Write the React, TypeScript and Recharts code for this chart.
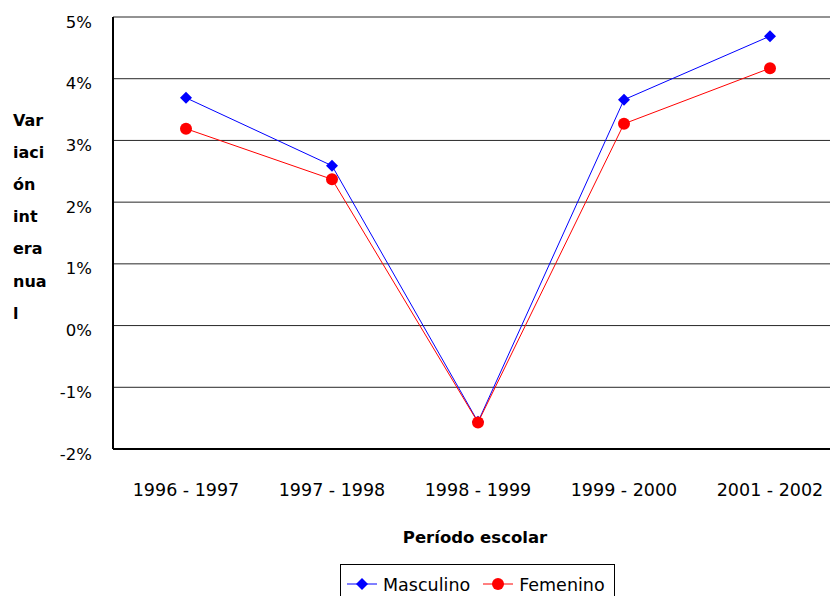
import React from 'react';
import { LineChart, Line, XAxis, YAxis, CartesianGrid } from 'recharts';

const categories = ['1996 - 1997', '1997 - 1998', '1998 - 1999', '1999 - 2000', '2001 - 2002'];
const masculino = [3.69, 2.59, -1.56, 3.66, 4.69];
const femenino = [3.19, 2.37, -1.57, 3.27, 4.17];
const yTicks = [-2, -1, 0, 1, 2, 3, 4, 5];
const yTitleLines = ['Var', 'iaci', 'ón', 'int', 'era', 'nua', 'l'];
const xTitle = 'Período escolar';
const seriesNames = ['Masculino', 'Femenino'];

const data = categories.map((c, i) => ({
  periodo: c,
  [seriesNames[0]]: masculino[i],
  [seriesNames[1]]: femenino[i],
}));

const FONT = '"DejaVu Sans", sans-serif';
const BLUE = '#0000FF';
const RED = '#FF0000';

const Diamond = (props: any) => {
  const { cx, cy } = props;
  if (cx == null || cy == null) return null;
  const s = 6;
  return (
    <polygon
      points={`${cx},${cy - s} ${cx + s},${cy} ${cx},${cy + s} ${cx - s},${cy}`}
      fill={BLUE}
      stroke="none"
    />
  );
};

const Circle = (props: any) => {
  const { cx, cy } = props;
  if (cx == null || cy == null) return null;
  return <circle cx={cx} cy={cy} r={6} fill={RED} stroke="none" />;
};

const YTick = (props: any) => {
  const { y, payload } = props;
  return (
    <text x={92} y={y + 5} textAnchor="end" dominantBaseline="central" fontSize={16.5} fontFamily={FONT} fill="#000">
      {payload.value}%
    </text>
  );
};

const XTick = (props: any) => {
  const { x, payload } = props;
  return (
    <text x={x} y={490} textAnchor="middle" dominantBaseline="central" fontSize={17.5} fontFamily={FONT} fill="#000">
      {payload.value}
    </text>
  );
};

const YTitle = () => (
  <text fontSize={16} fontWeight="bold" fontFamily={FONT} fill="#000">
    {yTitleLines.map((l, i) => (
      <tspan key={i} x={13} y={120 + i * 32.2} dominantBaseline="central">
        {l}
      </tspan>
    ))}
  </text>
);

const XTitle = () => (
  <text x={475} y={537} textAnchor="middle" dominantBaseline="central" fontSize={16.5} fontWeight="bold" fontFamily={FONT} fill="#000">
    {xTitle}
  </text>
);

const LegendBox = () => (
  <div
    style={{
      position: 'absolute',
      left: 340,
      top: 564,
      border: '1px solid #000',
      background: '#fff',
      width: 275,
      height: 40,
      boxSizing: 'border-box',
      display: 'flex',
      alignItems: 'flex-start',
      paddingTop: 9,
      paddingLeft: 5,
      fontFamily: FONT,
      fontSize: 17.5,
      lineHeight: '22px',
      color: '#000',
      whiteSpace: 'nowrap',
    }}
  >
    <svg width={32} height={20} style={{ marginTop: 0, flex: 'none' }}>
      <line x1={1} y1={10} x2={31} y2={10} stroke={BLUE} strokeWidth={1} />
      <polygon points="16,4 22,10 16,16 10,10" fill={BLUE} />
    </svg>
    <span style={{ marginLeft: 5, marginRight: 12 }}>{seriesNames[0]}</span>
    <svg width={32} height={20} style={{ marginTop: 0, flex: 'none' }}>
      <line x1={1} y1={10} x2={31} y2={10} stroke={RED} strokeWidth={1} />
      <circle cx={16} cy={10} r={6} fill={RED} />
    </svg>
    <span style={{ marginLeft: 5 }}>{seriesNames[1]}</span>
  </div>
);

export default function App() {
  return (
    <div style={{ position: 'absolute', left: 0, top: 0, width: 830, height: 596, overflow: 'hidden', background: '#fff' }}>
      <LineChart width={850} height={596} data={data} margin={{ top: 17, right: 7, bottom: 0, left: 0 }}>
        <CartesianGrid horizontal vertical={false} stroke="#000" strokeWidth={1} strokeOpacity={0.85} />
        <XAxis
          dataKey="periodo"
          height={147}
          padding={{ left: 73, right: 73 }}
          axisLine={{ stroke: '#000', strokeWidth: 2 }}
          tickLine={false}
          tick={<XTick />}
          interval={0}
          label={{ content: () => <XTitle /> }}
        />
        <YAxis
          width={113}
          domain={[-2, 5]}
          ticks={yTicks}
          type="number"
          axisLine={{ stroke: '#000', strokeWidth: 2 }}
          tickLine={false}
          tick={<YTick />}
          interval={0}
          label={{ content: () => <YTitle /> }}
        />
        <Line
          dataKey={seriesNames[0]}
          stroke={BLUE}
          strokeWidth={1}
          dot={<Diamond />}
          activeDot={false}
          isAnimationActive={false}
        />
        <Line
          dataKey={seriesNames[1]}
          stroke={RED}
          strokeWidth={1}
          dot={<Circle />}
          activeDot={false}
          isAnimationActive={false}
        />
      </LineChart>
      <LegendBox />
    </div>
  );
}
